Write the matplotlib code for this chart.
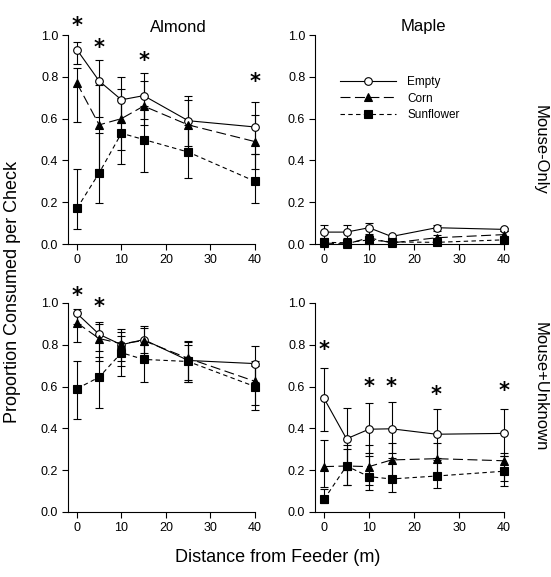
import matplotlib
matplotlib.use('Agg')
from matplotlib import pyplot as plt
import matplotlib.ticker as ticker

plt.rcParams['font.family'] = ['Liberation Sans', 'DejaVu Sans']

dist = [0, 5, 10, 15, 25, 40]
series = ['Empty', 'Corn', 'Sunflower']

# Almond, Mouse-Only
a_mo_empty = [0.93, 0.78, 0.69, 0.71, 0.59, 0.56]
a_mo_empty_lo = [0.86, 0.61, 0.58, 0.60, 0.47, 0.43]
a_mo_empty_hi = [0.965, 0.88, 0.80, 0.82, 0.71, 0.68]
a_mo_corn = [0.77, 0.57, 0.60, 0.66, 0.57, 0.49]
a_mo_corn_lo = [0.585, 0.36, 0.45, 0.57, 0.45, 0.36]
a_mo_corn_hi = [0.84, 0.76, 0.74, 0.78, 0.69, 0.615]
a_mo_sun = [0.17, 0.34, 0.53, 0.50, 0.44, 0.30]
a_mo_sun_lo = [0.072, 0.195, 0.383, 0.345, 0.315, 0.195]
a_mo_sun_hi = [0.357, 0.53, 0.70, 0.66, 0.57, 0.43]
a_mo_star_x = [0, 5, 15, 40]
a_mo_star_y = [1.064, 0.96, 0.897, 0.793]

# Maple, Mouse-Only
m_mo_empty = [0.057, 0.057, 0.078, 0.036, 0.078, 0.07]
m_mo_empty_lo = [0.03, 0.03, 0.05, 0.025, 0.06, 0.06]
m_mo_empty_hi = [0.09, 0.09, 0.10, 0.045, 0.09, 0.078]
m_mo_corn = [0.005, 0.0, 0.03, 0.005, 0.03, 0.045]
m_mo_corn_lo = [0.0, 0.0, 0.01, 0.0, 0.01, 0.02]
m_mo_corn_hi = [0.015, 0.005, 0.045, 0.012, 0.045, 0.06]
m_mo_sun = [0.008, 0.006, 0.02, 0.01, 0.008, 0.02]
m_mo_sun_lo = [0.0, 0.0, 0.005, 0.0, 0.0, 0.005]
m_mo_sun_hi = [0.02, 0.015, 0.04, 0.02, 0.02, 0.035]
m_mo_star_x = []
m_mo_star_y = []

# Almond, Mouse+Unknown
a_mu_empty = [0.95, 0.85, 0.80, 0.825, 0.725, 0.71]
a_mu_empty_lo = [0.90, 0.77, 0.70, 0.76, 0.63, 0.62]
a_mu_empty_hi = [0.97, 0.908, 0.874, 0.89, 0.815, 0.795]
a_mu_corn = [0.905, 0.83, 0.805, 0.82, 0.735, 0.625]
a_mu_corn_lo = [0.815, 0.72, 0.72, 0.74, 0.62, 0.51]
a_mu_corn_hi = [0.95, 0.90, 0.86, 0.88, 0.80, 0.72]
a_mu_sun = [0.59, 0.645, 0.762, 0.73, 0.72, 0.60]
a_mu_sun_lo = [0.445, 0.496, 0.65, 0.623, 0.62, 0.488]
a_mu_sun_hi = [0.722, 0.74, 0.84, 0.80, 0.82, 0.70]
a_mu_star_x = [0, 5]
a_mu_star_y = [1.054, 1.003]

# Maple, Mouse+Unknown
m_mu_empty = [0.544, 0.35, 0.396, 0.398, 0.372, 0.376]
m_mu_empty_lo = [0.387, 0.23, 0.28, 0.28, 0.26, 0.27]
m_mu_empty_hi = [0.69, 0.496, 0.523, 0.528, 0.491, 0.493]
m_mu_corn = [0.217, 0.22, 0.217, 0.249, 0.255, 0.245]
m_mu_corn_lo = [0.118, 0.13, 0.13, 0.15, 0.16, 0.15]
m_mu_corn_hi = [0.344, 0.32, 0.32, 0.33, 0.33, 0.28]
m_mu_sun = [0.06, 0.22, 0.169, 0.158, 0.172, 0.195]
m_mu_sun_lo = [0.042, 0.128, 0.105, 0.097, 0.116, 0.124]
m_mu_sun_hi = [0.11, 0.30, 0.27, 0.26, 0.25, 0.27]
m_mu_star_x = [0, 10, 15, 25, 40]
m_mu_star_y = [0.795, 0.619, 0.616, 0.58, 0.60]

styles = {
    'Empty': dict(marker='o', mfc='white', ls='-', ms=5.5),
    'Corn': dict(marker='^', mfc='black', ls=(0, (9, 4)), ms=5.5),
    'Sunflower': dict(marker='s', mfc='black', ls=(0, (4, 3)), ms=5.5),
}

fig = plt.figure(figsize=(5.51, 5.77), dpi=100)
positions = [
    [0.1234, 0.5771, 0.3394, 0.3622],
    [0.5717, 0.5771, 0.3430, 0.3622],
    [0.1234, 0.1127, 0.3394, 0.3622],
    [0.5717, 0.1127, 0.3430, 0.3622],
]
panels = [
    ([a_mo_empty, a_mo_corn, a_mo_sun], [a_mo_empty_lo, a_mo_corn_lo, a_mo_sun_lo],
     [a_mo_empty_hi, a_mo_corn_hi, a_mo_sun_hi], a_mo_star_x, a_mo_star_y),
    ([m_mo_empty, m_mo_corn, m_mo_sun], [m_mo_empty_lo, m_mo_corn_lo, m_mo_sun_lo],
     [m_mo_empty_hi, m_mo_corn_hi, m_mo_sun_hi], m_mo_star_x, m_mo_star_y),
    ([a_mu_empty, a_mu_corn, a_mu_sun], [a_mu_empty_lo, a_mu_corn_lo, a_mu_sun_lo],
     [a_mu_empty_hi, a_mu_corn_hi, a_mu_sun_hi], a_mu_star_x, a_mu_star_y),
    ([m_mu_empty, m_mu_corn, m_mu_sun], [m_mu_empty_lo, m_mu_corn_lo, m_mu_sun_lo],
     [m_mu_empty_hi, m_mu_corn_hi, m_mu_sun_hi], m_mu_star_x, m_mu_star_y),
]

axes = []
for pos, (means, los, his, sx, sy) in zip(positions, panels):
    ax = fig.add_axes(pos)
    handles = []
    for name, m, lo, hi in zip(series, means, los, his):
        yerr = [[mi - l for mi, l in zip(m, lo)], [h - mi for mi, h in zip(m, hi)]]
        ax.errorbar(dist, m, yerr=yerr, fmt='none', ecolor='black', elinewidth=0.8,
                    capsize=3, capthick=0.8, clip_on=False, zorder=2)
    for name, m in zip(series, means):
        st = styles[name]
        h, = ax.plot(dist, m, color='black', lw=0.8, ls=st['ls'], marker=st['marker'],
                     ms=st['ms'], mfc=st['mfc'], mec='black', mew=0.8,
                     clip_on=False, zorder=3, label=name)
        handles.append(h)
    # significance asterisks
    for x, y in zip(sx, sy):
        ax.annotate('*', (x, y), xytext=(0, -3), textcoords='offset points',
                    ha='center', va='center', fontsize=15, fontweight='bold',
                    family='DejaVu Sans', annotation_clip=False)
    ax.set_xlim(-2, 40)
    ax.set_ylim(0, 1.0)
    ax.spines['top'].set_visible(False)
    ax.spines['right'].set_visible(False)
    ax.xaxis.set_major_locator(ticker.MultipleLocator(10))
    ax.yaxis.set_major_locator(ticker.MultipleLocator(0.2))
    ax.yaxis.set_major_formatter(ticker.FormatStrFormatter('%.1f'))
    ax.tick_params(direction='out', length=4, width=0.8, labelsize=9, pad=3)
    for s in ['left', 'bottom']:
        ax.spines[s].set_linewidth(0.8)
    axes.append((ax, handles))

ax_b, hb = axes[1]
ax_b.legend(handles=hb, loc='upper left', bbox_to_anchor=(0.1, 0.83), frameon=False,
            handlelength=4.8, fontsize=8.5, labelspacing=0.35, handletextpad=0.9,
            borderpad=0, numpoints=1)

fig.text(178 / 551, 1 - 27 / 577, 'Almond', ha='center', va='center', fontsize=12)
fig.text(423 / 551, 1 - 27 / 577, 'Maple', ha='center', va='center', fontsize=12)
fig.text(540 / 551, 1 - 150 / 577, 'Mouse-Only', ha='center', va='center',
         rotation=270, fontsize=12)
fig.text(540 / 551, 1 - 387 / 577, 'Mouse+Unknown', ha='center', va='center',
         rotation=270, fontsize=12)
fig.text(13 / 551, 1 - 292 / 577, 'Proportion Consumed per Check', ha='center',
         va='center', rotation=90, fontsize=13)
fig.text(278 / 551, 1 - 558 / 577, 'Distance from Feeder (m)', ha='center',
         va='center', fontsize=13)

fig.savefig('out.png', dpi=100)
